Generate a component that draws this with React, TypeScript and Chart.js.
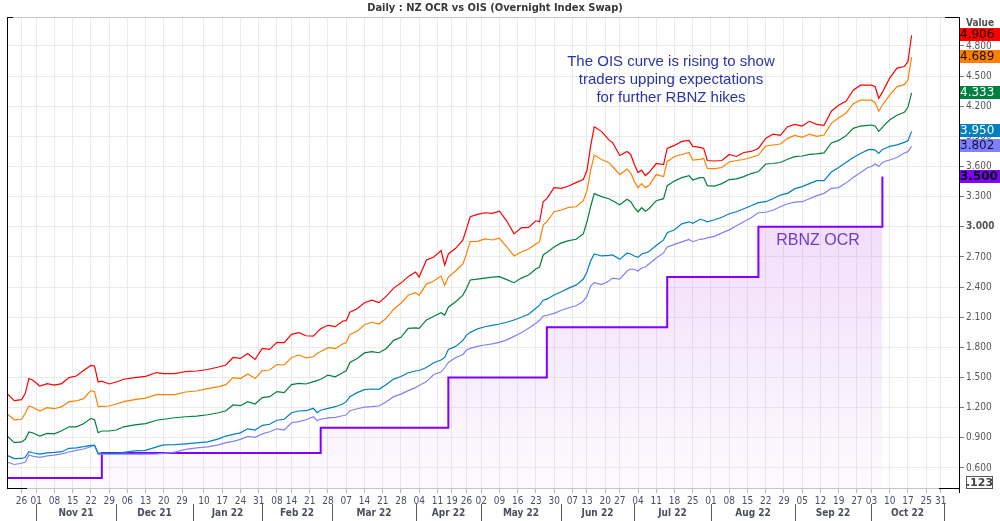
import React, { useEffect, useRef } from 'react';
import { Chart, registerables } from 'chart.js';

Chart.register(...registerables);

const FONT = "'DejaVu Sans Condensed', 'DejaVu Sans', sans-serif";
const TEXT_FONT = "'Liberation Sans', Arial, sans-serif";

const TITLE = 'Daily : NZ OCR vs OIS (Overnight Index Swap)';
const NOTE_LINES = ['The OIS curve is rising to show', 'traders upping expectations', 'for further RBNZ hikes'];
const OCR_LABEL = 'RBNZ OCR';

// NZ market holidays inside the range (no fixings on these days)
const HOLIDAYS = [
  '2021-10-25', '2021-12-27', '2021-12-28', '2022-01-03', '2022-01-04', '2022-02-07',
  '2022-04-15', '2022-04-18', '2022-04-25', '2022-06-06', '2022-06-24', '2022-09-26', '2022-10-24',
];
const FIRST_DAY = '2021-10-19';
const LAST_DAY = '2022-11-07';
const MONTH_NAMES = ['Jan', 'Feb', 'Mar', 'Apr', 'May', 'Jun', 'Jul', 'Aug', 'Sep', 'Oct', 'Nov', 'Dec'];

const Y_TICKS = [0.6, 0.9, 1.2, 1.5, 1.8, 2.1, 2.4, 2.7, 3.0, 3.3, 3.6, 3.9, 4.2, 4.5, 4.8];
const Y_MIN = 0.391;
const Y_MAX = 5.088;

const SAMPLE_DATES = [
  '2021-10-19', '2021-10-21', '2021-10-26', '2021-10-27', '2021-10-28', '2021-10-29', '2021-11-02', '2021-11-04', '2021-11-08', '2021-11-10',
  '2021-11-12', '2021-11-16', '2021-11-18', '2021-11-22', '2021-11-23', '2021-11-24', '2021-11-25', '2021-11-29', '2021-12-01', '2021-12-03',
  '2021-12-08', '2021-12-13', '2021-12-16', '2021-12-20', '2021-12-23', '2021-12-30', '2022-01-06', '2022-01-11', '2022-01-14', '2022-01-18',
  '2022-01-20', '2022-01-24', '2022-01-26', '2022-01-28', '2022-02-01', '2022-02-03', '2022-02-08', '2022-02-10', '2022-02-14', '2022-02-16',
  '2022-02-18', '2022-02-22', '2022-02-23', '2022-02-24', '2022-02-28', '2022-03-02', '2022-03-04', '2022-03-07', '2022-03-08', '2022-03-10',
  '2022-03-14', '2022-03-16', '2022-03-18', '2022-03-22', '2022-03-24', '2022-03-28', '2022-03-30', '2022-04-01', '2022-04-04', '2022-04-06',
  '2022-04-08', '2022-04-12', '2022-04-13', '2022-04-14', '2022-04-20', '2022-04-22', '2022-04-26', '2022-04-27', '2022-04-29', '2022-05-03',
  '2022-05-05', '2022-05-09', '2022-05-11', '2022-05-13', '2022-05-17', '2022-05-19', '2022-05-23', '2022-05-24', '2022-05-25', '2022-05-26',
  '2022-05-30', '2022-06-01', '2022-06-03', '2022-06-08', '2022-06-10', '2022-06-13', '2022-06-14', '2022-06-15', '2022-06-17', '2022-06-21',
  '2022-06-22', '2022-06-27', '2022-06-29', '2022-06-30', '2022-07-01', '2022-07-04', '2022-07-05', '2022-07-06', '2022-07-07', '2022-07-11',
  '2022-07-13', '2022-07-14', '2022-07-18', '2022-07-20', '2022-07-22', '2022-07-25', '2022-07-27', '2022-07-28', '2022-07-29', '2022-08-02',
  '2022-08-04', '2022-08-08', '2022-08-10', '2022-08-12', '2022-08-16', '2022-08-18', '2022-08-22', '2022-08-24', '2022-08-26', '2022-08-30',
  '2022-09-01', '2022-09-05', '2022-09-07', '2022-09-09', '2022-09-13', '2022-09-15', '2022-09-19', '2022-09-21', '2022-09-23', '2022-09-28',
  '2022-09-30', '2022-10-03', '2022-10-04', '2022-10-05', '2022-10-06', '2022-10-07', '2022-10-10', '2022-10-12', '2022-10-14', '2022-10-17',
  '2022-10-18',
];

const OIS_RED = [
  1.34, 1.27, 1.28, 1.34, 1.49, 1.475, 1.416, 1.44, 1.425, 1.44,
  1.50, 1.515, 1.57, 1.62, 1.615, 1.456, 1.465, 1.436, 1.456, 1.483,
  1.50, 1.512, 1.55, 1.54, 1.54, 1.56, 1.565, 1.58, 1.605, 1.625,
  1.70, 1.69, 1.74, 1.68, 1.79, 1.78, 1.85, 1.847, 1.93, 1.946,
  1.916, 1.913, 1.95, 1.985, 2.02, 2.006, 2.06, 2.066, 2.15, 2.185,
  2.245, 2.27, 2.245, 2.31, 2.39, 2.44, 2.504, 2.55, 2.50, 2.67,
  2.70, 2.763, 2.62, 2.73, 2.786, 2.87, 2.985, 3.10, 3.124, 3.14,
  3.134, 3.155, 3.06, 2.93, 2.99, 2.995, 3.06, 3.05, 3.25, 3.28,
  3.39, 3.383, 3.406, 3.44, 3.47, 3.56, 3.80, 3.996, 3.95, 3.865,
  3.84, 3.71, 3.75, 3.72, 3.62, 3.54, 3.565, 3.51, 3.54, 3.63,
  3.62, 3.78, 3.81, 3.85, 3.86, 3.80, 3.79, 3.78, 3.66, 3.655,
  3.66, 3.72, 3.70, 3.74, 3.75, 3.78, 3.88, 3.923, 3.91, 3.996,
  4.02, 4.003, 4.05, 4.02, 4.01, 4.15, 4.21, 4.25, 4.36, 4.41,
  4.41, 4.41, 4.394, 4.28, 4.34, 4.41, 4.48, 4.58, 4.595, 4.643,
  4.906,
];

const OIS_ORANGE = [
  1.14, 1.08, 1.085, 1.144, 1.217, 1.204, 1.167, 1.20, 1.19, 1.21,
  1.26, 1.267, 1.29, 1.37, 1.36, 1.21, 1.214, 1.217, 1.237, 1.26,
  1.28, 1.295, 1.33, 1.33, 1.33, 1.356, 1.366, 1.39, 1.41, 1.43,
  1.50, 1.49, 1.535, 1.49, 1.57, 1.575, 1.63, 1.625, 1.70, 1.724,
  1.697, 1.707, 1.74, 1.76, 1.797, 1.787, 1.834, 1.847, 1.93, 1.96,
  2.025, 2.05, 2.033, 2.09, 2.18, 2.24, 2.32, 2.345, 2.32, 2.43,
  2.46, 2.51, 2.42, 2.50, 2.563, 2.63, 2.736, 2.852, 2.855, 2.879,
  2.869, 2.886, 2.80, 2.71, 2.75, 2.78, 2.83, 2.85, 3.018, 3.05,
  3.15, 3.167, 3.194, 3.20, 3.26, 3.36, 3.56, 3.714, 3.67, 3.638,
  3.60, 3.52, 3.575, 3.535, 3.45, 3.39, 3.43, 3.39, 3.41, 3.52,
  3.50, 3.648, 3.70, 3.72, 3.74, 3.665, 3.671, 3.681, 3.581, 3.58,
  3.59, 3.645, 3.66, 3.67, 3.69, 3.714, 3.804, 3.814, 3.824, 3.88,
  3.91, 3.89, 3.923, 3.90, 3.913, 4.03, 4.085, 4.13, 4.225, 4.26,
  4.262, 4.26, 4.235, 4.15, 4.21, 4.26, 4.31, 4.395, 4.415, 4.461,
  4.689,
];

const OIS_GREEN = [
  0.92, 0.852, 0.86, 0.886, 0.958, 0.951, 0.918, 0.945, 0.94, 0.971,
  1.01, 1.01, 1.04, 1.094, 1.08, 0.951, 0.968, 0.968, 0.978, 1.01,
  1.03, 1.042, 1.075, 1.085, 1.10, 1.11, 1.117, 1.13, 1.15, 1.17,
  1.227, 1.22, 1.26, 1.237, 1.30, 1.31, 1.36, 1.35, 1.43, 1.443,
  1.436, 1.459, 1.47, 1.483, 1.525, 1.508, 1.548, 1.568, 1.65, 1.69,
  1.745, 1.757, 1.747, 1.79, 1.87, 1.90, 1.99, 1.995, 1.99, 2.073,
  2.11, 2.146, 2.122, 2.20, 2.255, 2.32, 2.388, 2.471, 2.48, 2.49,
  2.50, 2.504, 2.475, 2.444, 2.49, 2.52, 2.58, 2.60, 2.72, 2.745,
  2.80, 2.84, 2.862, 2.876, 2.93, 3.05, 3.20, 3.33, 3.30, 3.28,
  3.26, 3.22, 3.275, 3.25, 3.19, 3.15, 3.19, 3.155, 3.18, 3.26,
  3.28, 3.41, 3.455, 3.49, 3.51, 3.466, 3.49, 3.49, 3.41, 3.406,
  3.43, 3.47, 3.478, 3.50, 3.53, 3.55, 3.625, 3.63, 3.64, 3.672,
  3.698, 3.705, 3.72, 3.725, 3.735, 3.835, 3.86, 3.905, 3.98, 4.003,
  4.01, 4.013, 4.003, 3.95, 3.99, 4.03, 4.063, 4.11, 4.14, 4.189,
  4.333,
];

const OIS_BLUE = [
  0.726, 0.693, 0.695, 0.706, 0.762, 0.752, 0.739, 0.75, 0.755, 0.762,
  0.796, 0.80, 0.812, 0.826, 0.826, 0.746, 0.746, 0.746, 0.746, 0.755,
  0.77, 0.775, 0.81, 0.83, 0.832, 0.84, 0.85, 0.86, 0.89, 0.918,
  0.935, 0.95, 0.99, 0.978, 1.025, 1.035, 1.075, 1.085, 1.15, 1.167,
  1.17, 1.194, 1.15, 1.175, 1.194, 1.21, 1.237, 1.26, 1.31, 1.35,
  1.38, 1.386, 1.383, 1.43, 1.485, 1.51, 1.548, 1.565, 1.57, 1.60,
  1.648, 1.675, 1.70, 1.78, 1.81, 1.87, 1.923, 1.95, 1.985, 2.006,
  2.02, 2.033, 2.05, 2.073, 2.10, 2.13, 2.19, 2.22, 2.27, 2.28,
  2.321, 2.354, 2.39, 2.42, 2.48, 2.55, 2.66, 2.73, 2.71, 2.715,
  2.72, 2.676, 2.74, 2.73, 2.71, 2.696, 2.73, 2.74, 2.755, 2.815,
  2.87, 2.942, 2.97, 3.03, 3.05, 3.035, 3.075, 3.065, 3.05, 3.07,
  3.095, 3.13, 3.15, 3.18, 3.21, 3.24, 3.25, 3.28, 3.316, 3.333,
  3.38, 3.40, 3.43, 3.459, 3.46, 3.545, 3.59, 3.64, 3.69, 3.73,
  3.765, 3.771, 3.764, 3.73, 3.77, 3.785, 3.80, 3.815, 3.84, 3.857,
  3.95,
];

const OIS_LILAC = [
  0.66, 0.635, 0.647, 0.66, 0.729, 0.719, 0.706, 0.72, 0.728, 0.74,
  0.759, 0.775, 0.789, 0.812, 0.826, 0.739, 0.739, 0.739, 0.739, 0.739,
  0.739, 0.739, 0.74, 0.745, 0.757, 0.786, 0.80, 0.81, 0.83, 0.852,
  0.865, 0.885, 0.915, 0.905, 0.94, 0.961, 0.99, 0.978, 1.05, 1.061,
  1.08, 1.11, 1.071, 1.085, 1.098, 1.104, 1.12, 1.127, 1.17, 1.19,
  1.205, 1.21, 1.217, 1.26, 1.31, 1.335, 1.37, 1.40, 1.42, 1.46,
  1.53, 1.555, 1.60, 1.65, 1.70, 1.73, 1.774, 1.79, 1.81, 1.824,
  1.835, 1.85, 1.875, 1.91, 1.945, 1.99, 2.04, 2.07, 2.112, 2.12,
  2.139, 2.17, 2.195, 2.215, 2.26, 2.31, 2.41, 2.445, 2.425, 2.46,
  2.49, 2.48, 2.56, 2.58, 2.575, 2.56, 2.59, 2.60, 2.63, 2.69,
  2.74, 2.80, 2.825, 2.85, 2.875, 2.852, 2.876, 2.88, 2.89, 2.905,
  2.94, 2.97, 3.01, 3.05, 3.09, 3.14, 3.145, 3.165, 3.20, 3.23,
  3.245, 3.25, 3.28, 3.31, 3.333, 3.383, 3.39, 3.435, 3.49, 3.54,
  3.59, 3.60, 3.625, 3.60, 3.64, 3.655, 3.665, 3.69, 3.735, 3.748,
  3.802,
];

// RBNZ OCR: effective dates of each change and the new rate
const OCR_DATES = ['2021-10-19', '2021-11-25', '2022-02-24', '2022-04-14', '2022-05-26', '2022-07-14', '2022-08-18', '2022-10-06'];
const OCR_VALUES = [0.5, 0.75, 1.0, 1.5, 2.0, 2.5, 3.0, 3.5];

const SERIES = [
  { name: 'OIS 1', values: OIS_RED, color: '#ff0000', text: '#1a0000' },
  { name: 'OIS 2', values: OIS_ORANGE, color: '#ff8000', text: '#1a0d00' },
  { name: 'OIS 3', values: OIS_GREEN, color: '#008040', text: '#ffffff' },
  { name: 'OIS 4', values: OIS_BLUE, color: '#0080c0', text: '#ffffff' },
  { name: 'OIS 5', values: OIS_LILAC, color: '#8080ff', text: '#10103a' },
];
const OCR_COLOR = '#8000ff';

function iso(d: Date): string {
  return d.toISOString().slice(0, 10);
}

function buildTradingDays(start: string, end: string): string[] {
  const out: string[] = [];
  const d = new Date(start + 'T00:00:00Z');
  const e = new Date(end + 'T00:00:00Z');
  while (d <= e) {
    const wd = d.getUTCDay();
    const s = iso(d);
    if (wd !== 0 && wd !== 6 && !HOLIDAYS.includes(s)) out.push(s);
    d.setUTCDate(d.getUTCDate() + 1);
  }
  return out;
}

const TRADING_DAYS = buildTradingDays(FIRST_DAY, LAST_DAY);

function buildWeekLabels(days: string[]): string[] {
  const labels = days.map(() => '');
  let prevWeek = '';
  let prevIdx = -99;
  days.forEach((s, i) => {
    const d = new Date(s + 'T00:00:00Z');
    const monday = new Date(d);
    monday.setUTCDate(d.getUTCDate() - ((d.getUTCDay() + 6) % 7));
    const wk = iso(monday);
    if (wk !== prevWeek) {
      prevWeek = wk;
      if (i > 0 && i < days.length - 1 && i - prevIdx >= 4) {
        labels[i] = s.slice(8, 10);
        prevIdx = i;
      }
    }
  });
  return labels;
}

const WEEK_LABELS = buildWeekLabels(TRADING_DAYS);

function buildMonthStarts(days: string[]): { idx: number; label: string }[] {
  const out: { idx: number; label: string }[] = [];
  for (let i = 1; i < days.length; i++) {
    if (days[i].slice(5, 7) !== days[i - 1].slice(5, 7)) {
      const m = parseInt(days[i].slice(5, 7), 10) - 1;
      out.push({ idx: i, label: MONTH_NAMES[m] + ' ' + days[i].slice(2, 4) });
    }
  }
  return out;
}

const MONTH_STARTS = buildMonthStarts(TRADING_DAYS);

const decorations = {
  id: 'decorations',
  afterDraw(chart: any) {
    const { ctx, chartArea: a, scales } = chart;
    const xs = scales.x;
    const ys = scales.y;
    ctx.save();

    // frame
    ctx.lineWidth = 1;
    ctx.strokeStyle = '#c6c6c6';
    ctx.beginPath();
    ctx.moveTo(a.left, a.top + 0.5);
    ctx.lineTo(a.right, a.top + 0.5);
    ctx.moveTo(a.left, a.bottom - 0.5);
    ctx.lineTo(a.right, a.bottom - 0.5);
    ctx.stroke();
    ctx.strokeStyle = '#000000';
    ctx.beginPath();
    ctx.moveTo(a.left + 0.5, a.top);
    ctx.lineTo(a.left + 0.5, a.bottom);
    ctx.moveTo(a.right + 0.5, a.top);
    ctx.lineTo(a.right + 0.5, a.bottom + 4);
    ctx.moveTo(a.left, a.bottom - 0.5);
    ctx.lineTo(a.left + 20, a.bottom - 0.5);
    ctx.moveTo(a.right - 20, a.bottom - 0.5);
    ctx.lineTo(a.right, a.bottom - 0.5);
    ctx.moveTo(a.left, a.top + 0.5);
    ctx.lineTo(a.left + 6, a.top + 0.5);
    ctx.moveTo(a.right - 14, a.top + 0.5);
    ctx.lineTo(a.right, a.top + 0.5);
    ctx.stroke();

    // title
    ctx.fillStyle = '#383838';
    ctx.font = `bold 11px ${FONT}`;
    ctx.textAlign = 'center';
    ctx.textBaseline = 'middle';
    ctx.fillText(TITLE, 495, 8);

    // annotation
    ctx.fillStyle = '#2a34a8';
    ctx.font = `15px ${TEXT_FONT}`;
    NOTE_LINES.forEach((line, i) => ctx.fillText(line, 671, 62 + i * 18));

    ctx.fillStyle = '#6e3ccc';
    ctx.font = `16px ${TEXT_FONT}`;
    ctx.fillText(OCR_LABEL, 818, 241);

    // month row
    ctx.strokeStyle = '#555a66';
    ctx.fillStyle = '#4a4f60';
    ctx.font = `bold 10px ${FONT}`;
    const mx = MONTH_STARTS.map((m) => Math.round(xs.getPixelForValue(m.idx)));
    ctx.beginPath();
    mx.forEach((x) => {
      ctx.moveTo(x + 0.5, 504);
      ctx.lineTo(x + 0.5, 521);
    });
    ctx.stroke();
    for (let i = 0; i < MONTH_STARTS.length - 1; i++) {
      ctx.fillText(MONTH_STARTS[i].label, (mx[i] + mx[i + 1]) / 2, 513);
    }

    // header
    ctx.fillStyle = '#505050';
    ctx.font = `bold 10px ${FONT}`;
    ctx.fillText('Value', 980, 23);

    // last-value boxes
    const boxes = SERIES.map((s) => ({ v: s.values[s.values.length - 1], bg: s.color, fg: s.text, bold: false }));
    boxes.push({ v: OCR_VALUES[OCR_VALUES.length - 1], bg: OCR_COLOR, fg: '#000000', bold: true });
    ctx.textAlign = 'left';
    boxes.forEach((b) => {
      const y = Math.round(ys.getPixelForValue(b.v));
      ctx.fillStyle = b.bg;
      ctx.fillRect(a.right + 1, y - 7, 1000 - a.right - 1, 13);
      ctx.fillStyle = b.fg;
      ctx.font = `${b.bold ? 'bold ' : ''}12px 'DejaVu Sans', sans-serif`;
      ctx.fillText(b.v.toFixed(3), a.right + 1, y);
    });

    // decimals widget
    ctx.strokeStyle = '#555555';
    ctx.strokeRect(966.5, 476.5, 26, 12);
    ctx.fillStyle = '#444444';
    ctx.font = `bold 11px 'DejaVu Sans', sans-serif`;
    ctx.textAlign = 'center';
    ctx.fillText('.123', 979.5, 483);

    ctx.restore();
  },
};

export default function App() {
  const ref = useRef<HTMLCanvasElement | null>(null);

  useEffect(() => {
    if (!ref.current) return;
    const oisSets = SERIES.map((s) => ({
      label: s.name,
      data: SAMPLE_DATES.map((d, i) => ({ x: d, y: s.values[i] })),
      borderColor: s.color,
      borderWidth: 1.2,
      pointRadius: 0,
      tension: 0,
      fill: false,
    }));
    const ocrSet = {
      label: 'RBNZ OCR',
      data: OCR_DATES.map((d, i) => ({ x: d, y: OCR_VALUES[i] })),
      borderColor: OCR_COLOR,
      borderWidth: 2,
      pointRadius: 0,
      stepped: 'before',
      fill: 'start',
      backgroundColor: (c: any) => {
        const chart = c.chart;
        const area = chart.chartArea;
        if (!area) return 'rgba(200,120,235,0.15)';
        const g = chart.ctx.createLinearGradient(0, area.top, 0, area.bottom);
        g.addColorStop(0, 'rgba(200,120,235,0.36)');
        g.addColorStop(0.34, 'rgba(200,120,235,0.29)');
        g.addColorStop(1, 'rgba(200,120,235,0.03)');
        return g;
      },
    };

    const chart = new Chart(ref.current, {
      type: 'line',
      data: {
        labels: TRADING_DAYS,
        datasets: [...oisSets, ocrSet] as any,
      },
      options: {
        animation: false,
        responsive: false,
        maintainAspectRatio: false,
        devicePixelRatio: 1,
        layout: { padding: { left: 7, top: 17, right: 0, bottom: 0 } },
        plugins: {
          legend: { display: false },
          tooltip: { enabled: false },
          title: { display: false },
        },
        scales: {
          x: {
            type: 'category',
            offset: false,
            border: { display: false },
            grid: {
              drawOnChartArea: true,
              drawTicks: true,
              tickLength: 4,
              color: (c: any) => (WEEK_LABELS[c.index] ? '#ebebeb' : 'rgba(0,0,0,0)'),
              tickColor: (c: any) => (WEEK_LABELS[c.index] ? '#b8b8b8' : 'rgba(0,0,0,0)'),
            },
            ticks: {
              autoSkip: false,
              maxRotation: 0,
              minRotation: 0,
              padding: 2,
              color: '#4a4f66',
              font: { family: FONT, size: 10 },
              callback: (_v: any, i: number) => WEEK_LABELS[i] || '',
            },
            afterFit: (s: any) => {
              s.height = 32;
            },
          },
          y: {
            type: 'linear',
            position: 'right',
            min: Y_MIN,
            max: Y_MAX,
            border: { display: false },
            grid: { color: '#ebebeb', tickLength: 5, tickColor: '#777777' },
            afterBuildTicks: (s: any) => {
              s.ticks = Y_TICKS.map((v) => ({ value: v }));
            },
            ticks: {
              padding: 2,
              color: '#555555',
              font: (c: any) => ({
                family: FONT,
                size: 10,
                weight: c.tick && Math.abs(c.tick.value - 3) < 1e-6 ? 'bold' : 'normal',
              }),
              callback: (v: any) => Number(v).toFixed(3),
            },
            afterFit: (s: any) => {
              s.width = 41;
            },
          },
        },
      } as any,
      plugins: [decorations],
    });
    return () => chart.destroy();
  }, []);

  return (
    <div style={{ position: 'absolute', left: 0, top: 0, width: 1000, height: 521, background: '#ffffff' }}>
      <canvas ref={ref} width={1000} height={521} style={{ display: 'block' }} />
    </div>
  );
}
